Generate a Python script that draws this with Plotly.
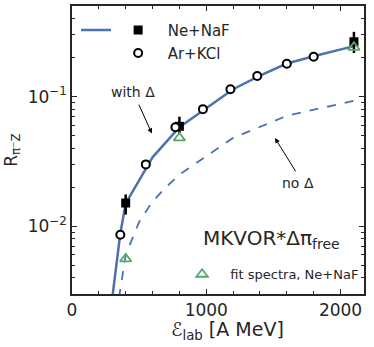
import numpy as np
import plotly.graph_objects as go

# curva com Delta (solida) e sem Delta (tracejada)
with_x = [300, 360, 400, 600, 800, 1000, 1200, 1400, 1600, 1800, 2100]
with_y = [0.0028, 0.0088, 0.015, 0.034, 0.058, 0.081, 0.114, 0.145, 0.18, 0.205, 0.245]
no_x = [350, 400, 500, 600, 700, 800, 1200, 1600, 2100]
no_y = [0.0028, 0.006, 0.0108, 0.0155, 0.020, 0.025, 0.048, 0.071, 0.093]

# dados Ne+NaF
ne_x = [400, 800, 2100]
ne_y = [0.0151, 0.059, 0.265]
ne_up = [0.0025, 0.011, 0.051]
ne_dn = [0.0028, 0.0065, 0.048]

# dados Ar+KCl
ar_x = [360, 550, 770, 975, 1180, 1380, 1600, 1800]
ar_y = [0.0086, 0.030, 0.058, 0.080, 0.114, 0.144, 0.179, 0.203]
ar_err = [0.0006, 0.002, 0.004, 0.006, 0.008, 0.010, 0.013, 0.015]

# fit spectra
fit_x = [400, 800, 2100]
fit_y = [0.0056, 0.048, 0.24]

y_ticks = [0.01, 0.1]
y_ticktext = ["10<sup>\u22122</sup>", "10<sup>\u22121</sup>"]

blue = "#4c72b0"
green = "#55a868"
fnt = "DejaVu Sans"
nb = "\u00a0"

fig = go.Figure()

fig.add_trace(go.Scatter(x=with_x, y=with_y, mode="lines", name=" ",
                         line=dict(color=blue, width=2.5), legend="legend"))
fig.add_trace(go.Scatter(x=no_x, y=no_y, mode="lines", showlegend=False,
                         line=dict(color=blue, width=1.8, dash="dash")))
fig.add_trace(go.Scatter(
    x=ne_x, y=ne_y, mode="markers", name=nb * 2 + "Ne+NaF", legend="legend4",
    marker=dict(symbol="square", size=9, color="black"),
    error_y=dict(type="data", array=ne_up, arrayminus=ne_dn, color="black",
                 thickness=2.5, width=0)))
fig.add_trace(go.Scatter(
    x=ar_x, y=ar_y, mode="markers", name=nb * 2 + "Ar+KCl", legend="legend2",
    marker=dict(symbol="circle", size=8, color="white",
                line=dict(color="black", width=2)),
    error_y=dict(type="data", array=ar_err, color="black",
                 thickness=2, width=0)))
fig.add_trace(go.Scatter(
    x=fit_x, y=fit_y, mode="markers", name=nb * 2 + "fit spectra, Ne+NaF",
    legend="legend3",
    marker=dict(symbol="triangle-up-open", size=10, color=green,
                line=dict(color=green, width=1.8))))

arrow = dict(showarrow=True, arrowhead=2, arrowsize=1, arrowwidth=1,
             arrowcolor="black", axref="x", ayref="y", text="", standoff=0)
fig.add_annotation(x=595, y=np.log10(0.052), ax=493, ay=np.log10(0.089), **arrow)
fig.add_annotation(x=1512, y=np.log10(0.0479), ax=1673, ay=np.log10(0.0258), **arrow)
fig.add_annotation(x=455, y=np.log10(0.109), text="with \u0394", showarrow=False,
                   font=dict(size=14, color="#262626"))
fig.add_annotation(x=1683, y=np.log10(0.0216), text="no \u0394", showarrow=False,
                   font=dict(size=14, color="#262626"))
fig.add_annotation(x=1487, y=np.log10(0.0079), text="MKVOR*\u0394\u03c0<sub>free</sub>",
                   showarrow=False, font=dict(size=20, color="#262626"))
# titulo do eixo x como anotacao (um pouco a direita do centro)
fig.add_annotation(x=0.534, y=-0.125, xref="paper", yref="paper", showarrow=False,
                   text="\u2130<sub>lab</sub> [A MeV]", font=dict(size=19, color="#262626"),
                   yanchor="middle")

axis_common = dict(showline=True, linecolor="#262626", linewidth=1.5, mirror="ticks",
                   ticks="inside", ticklen=5, tickcolor="#262626", showgrid=False,
                   zeroline=False, automargin=False,
                   tickfont=dict(size=17, color="#262626"))

leg = dict(xanchor="left", yanchor="top", bgcolor="rgba(0,0,0,0)")

fig.update_layout(
    width=374, height=347,
    margin=dict(l=72, r=10, t=6, b=53),
    plot_bgcolor="white", paper_bgcolor="white",
    font=dict(family=fnt, color="#262626"),
    xaxis=dict(range=[0, 2175], tickvals=[0, 1000, 2000],
               minor=dict(ticks="inside", ticklen=3, dtick=200, tickcolor="#262626"),
               **axis_common),
    yaxis=dict(type="log", range=[np.log10(0.003), np.log10(0.5)],
               tickvals=y_ticks, ticktext=y_ticktext,
               minor=dict(ticks="inside", ticklen=3, tickcolor="#262626",
                          tickvals=[0.003, 0.004, 0.005, 0.006, 0.007, 0.008, 0.009,
                                    0.02, 0.03, 0.04, 0.05, 0.06, 0.07, 0.08, 0.09,
                                    0.2, 0.3, 0.4]),
               title=dict(text="R<sub>\u03c0\u207bZ</sub>", font=dict(size=17), standoff=6),
               **axis_common),
    legend=dict(x=0.014, y=0.973, font=dict(size=15), **leg),
    legend4=dict(x=0.158, y=0.973, font=dict(size=15), **leg),
    legend2=dict(x=0.158, y=0.893, font=dict(size=15), **leg),
    legend3=dict(x=0.377, y=0.1205, font=dict(size=13), **leg),
)

# tira a margem padrao do body para a figura ficar no canto
fig.write_html("out.html", config={"displayModeBar": False},
               post_script="document.body.style.margin='0';")
